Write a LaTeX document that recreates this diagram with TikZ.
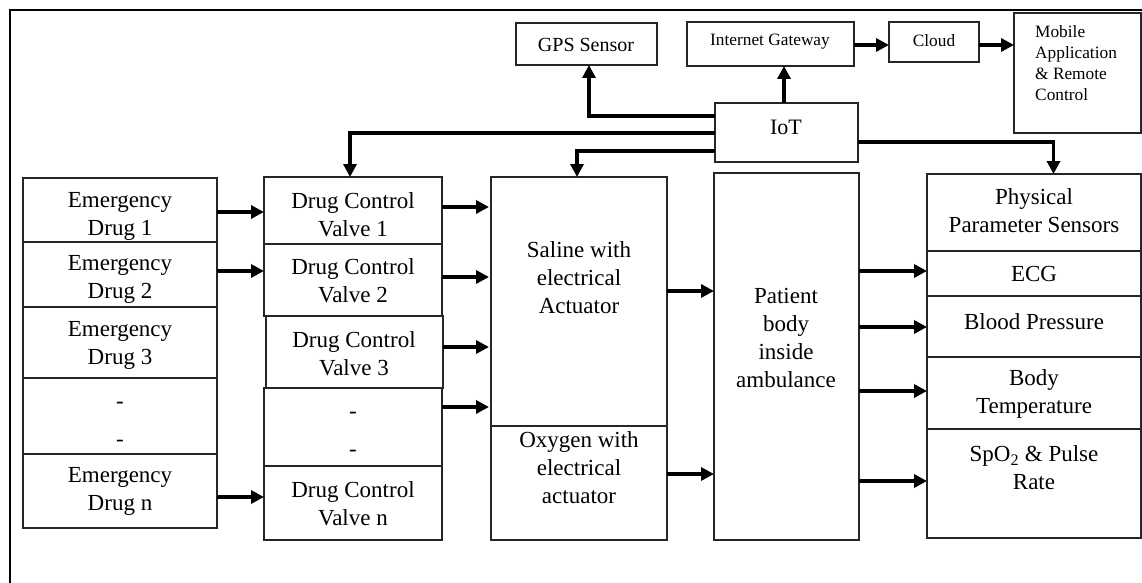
\documentclass[tikz,border=0pt]{standalone}
\usepackage{fontspec}
\setmainfont{Liberation Serif}
\usetikzlibrary{arrows.meta}
\newcommand\bx[5]{\node[bxs, minimum width={#4-#2}, minimum height={#5-#3}] (#1) at ({(#2+#4)/2},{(#3+#5)/2}) {};}
\begin{document}
\begin{tikzpicture}[x=1pt,y=-1pt,
  bxs/.style={draw=black!85, line width=1.1pt, rectangle, inner sep=0pt, outer sep=0pt},
  txt/.style={inner sep=0pt, align=center, font=\fontsize{23}{28}\selectfont},
  smalltxt/.style={inner sep=0pt, align=center, font=\fontsize{17.3}{21}\selectfont},
  arr/.style={line width=3.3pt, -{Triangle[length=13pt,width=13pt]}},
  frameline/.style={line width=2.5pt}]
\useasboundingbox (0,0) rectangle (1142,583);
\draw[frameline] (10,583) -- (10,10) -- (1142,10);
% boxes
\bx{e1}{23}{178}{217}{242}
\bx{e2}{23}{242}{217}{307}
\bx{e3}{23}{307}{217}{378}
\bx{e4}{23}{378}{217}{454}
\bx{e5}{23}{454}{217}{528}
\bx{v1}{264}{177}{442}{244}
\bx{v2}{264}{244}{442}{316}
\bx{v3}{266}{316}{443}{388}
\bx{v4}{264}{388}{442}{466}
\bx{v5}{264}{466}{442}{540}
\bx{sal}{491}{177}{667}{426}
\bx{oxy}{491}{426}{667}{540}
\bx{pat}{714}{173}{859}{540}
\bx{phy}{927}{174}{1141}{251}
\bx{ecg}{927}{251}{1141}{296}
\bx{bp}{927}{296}{1141}{357}
\bx{bt}{927}{357}{1141}{429}
\bx{spo}{927}{429}{1141}{538}
\bx{gps}{516}{23}{657}{65}
\bx{gw}{687}{22}{854}{66}
\bx{cld}{889}{22}{979}{62}
\bx{mob}{1014}{13}{1141}{133}
\bx{iot}{715}{103}{858}{162}
% texts
\node[txt] (te1) at (120,216) {Emergency\\Drug 1};
\node[txt] (te2) at (120,279) {Emergency\\Drug 2};
\node[txt] (te3) at (120,345) {Emergency\\Drug 3};
\node[txt] (te4) at (120,424) {-\\[10pt]-};
\node[txt] (te5) at (120,491) {Emergency\\Drug n};
\node[txt] (tv1) at (353,215) {Drug Control\\Valve 1};
\node[txt] (tv2) at (353,281) {Drug Control\\Valve 2};
\node[txt] (tv3) at (354,354) {Drug Control\\Valve 3};
\node[txt] (tv4) at (353,434) {-\\[10pt]-};
\node[txt] (tv5) at (353,504) {Drug Control\\Valve n};
\node[txt] (tsal) at (579,278) {Saline with\\electrical\\Actuator};
\node[txt] (toxy) at (579,468) {Oxygen with\\electrical\\actuator};
\node[txt] (tpat) at (786,338) {Patient\\body\\inside\\ambulance};
\node[txt] (tphy) at (1034,211) {Physical\\Parameter Sensors};
\node[txt] (tecg) at (1034,274) {ECG};
\node[txt] (tbp) at (1034,322) {Blood Pressure};
\node[txt] (tbt) at (1034,394) {Body\\Temperature};
\node[txt] (tspo) at (1034,468) {SpO\textsubscript{2} \& Pulse\\Rate};
\node[inner sep=0pt, font=\fontsize{20}{24}\selectfont] (tgps) at (586,45) {GPS Sensor};
\node[smalltxt] (tgw) at (770,42) {Internet Gateway};
\node[smalltxt] (tcld) at (934,41) {Cloud};
\node[smalltxt, align=left, anchor=north west] (tmob) at (1035,25) {Mobile\\Application\\\& Remote\\Control};
\node[inner sep=0pt, font=\fontsize{22}{26}\selectfont] (tiot) at (786,127) {IoT};
% arrows drug -> valve
\draw[arr] (e1.east |- 0,212) -- (v1.west |- 0,212);
\draw[arr] (e2.east |- 0,271) -- (v2.west |- 0,271);
\draw[arr] (e5.east |- 0,497) -- (v5.west |- 0,497);
% valve -> saline
\draw[arr] (v1.east |- 0,207) -- ([xshift=-2pt]sal.west |- 0,207);
\draw[arr] (v2.east |- 0,277) -- ([xshift=-2pt]sal.west |- 0,277);
\draw[arr] (v3.east |- 0,347) -- ([xshift=-2pt]sal.west |- 0,347);
\draw[arr] (v4.east |- 0,407) -- ([xshift=-2pt]sal.west |- 0,407);
% saline/oxygen -> patient
\draw[arr] (sal.east |- 0,291) -- (pat.west |- 0,291);
\draw[arr] (oxy.east |- 0,474) -- (pat.west |- 0,474);
% patient -> sensors
\draw[arr] (pat.east |- 0,271) -- (ecg.west |- 0,271);
\draw[arr] (pat.east |- 0,327) -- (bp.west |- 0,327);
\draw[arr] (pat.east |- 0,391) -- (bt.west |- 0,391);
\draw[arr] (pat.east |- 0,481) -- (spo.west |- 0,481);
% IoT connections
\draw[arr] (iot.west |- 0,116) -| ([xshift=2.5pt]gps.south);
\draw[arr] ([xshift=-2.5pt]iot.north) -- ([xshift=13.5pt]gw.south);
\draw[arr] (gw.east |- 0,45) -- (cld.west |- 0,45);
\draw[arr] (cld.east |- 0,45) -- (mob.west |- 0,45);
\draw[arr] (iot.west |- 0,133) -| ([xshift=-3pt]v1.north);
\draw[arr] (iot.west |- 0,151) -| ([xshift=-2pt]sal.north);
\draw[arr] (iot.east |- 0,142) -| ([xshift=19.5pt]phy.north);
\end{tikzpicture}
\end{document}
